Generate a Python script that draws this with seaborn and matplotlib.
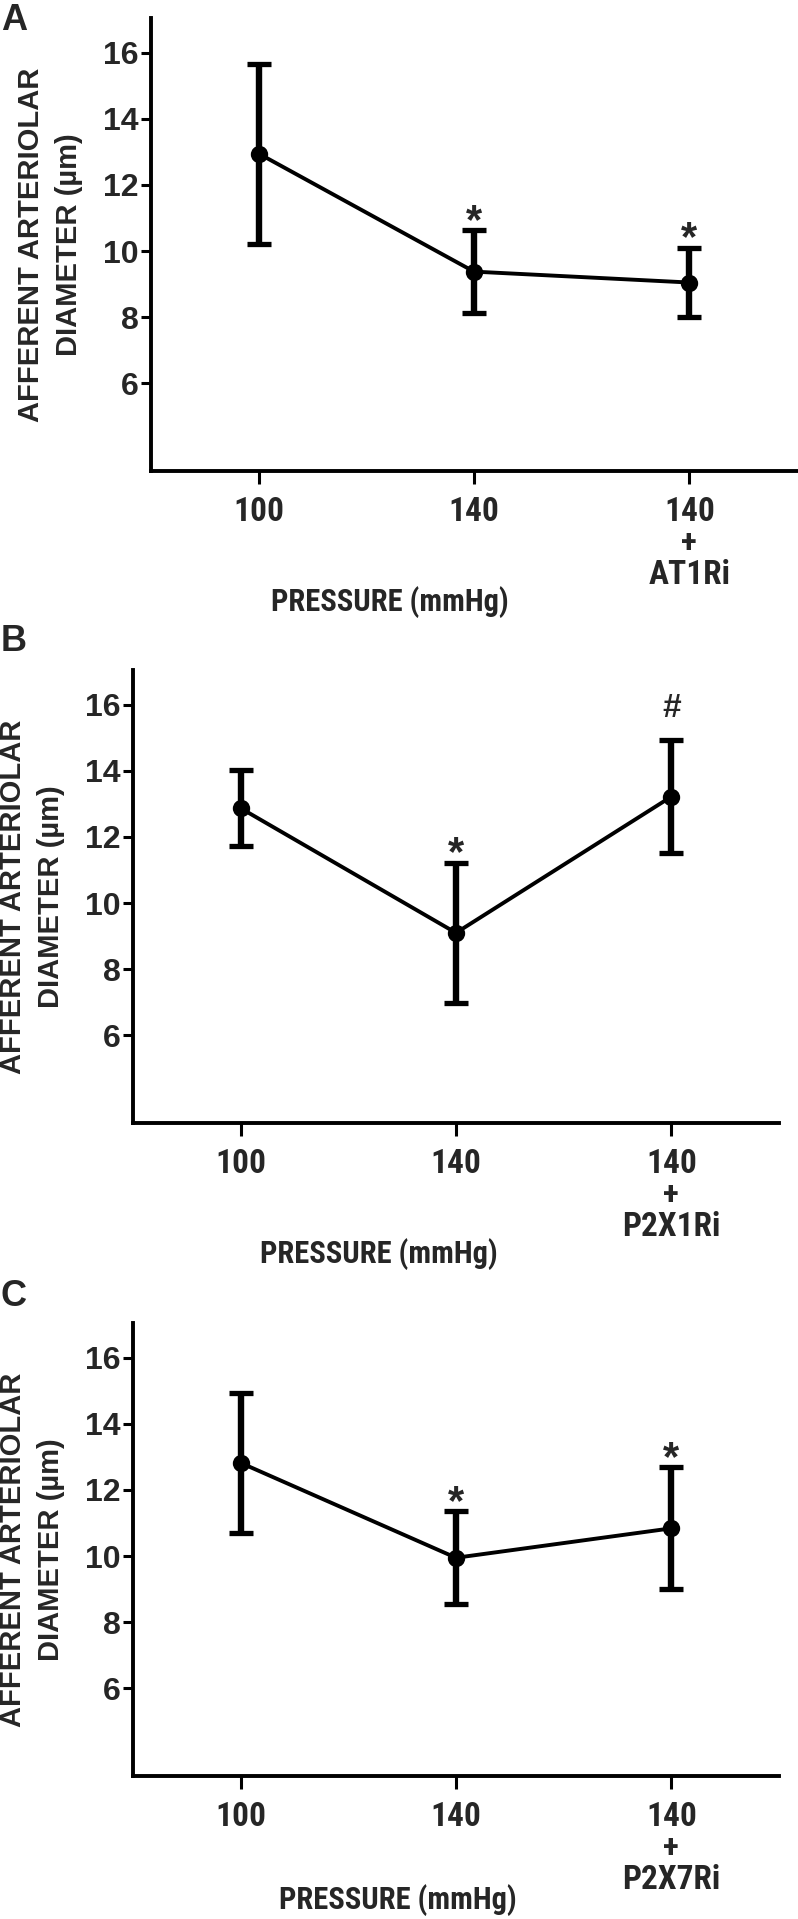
import os
import pandas as pd
import seaborn as sns
import matplotlib.pyplot as plt
from matplotlib import font_manager as fm

# x categories (same three conditions in every panel)
positions = [0, 1, 2]
labels_a = ['100', '140', '140\n+\nAT1Ri']
labels_b = ['100', '140', '140\n+\nP2X1Ri']
labels_c = ['100', '140', '140\n+\nP2X7Ri']

# mean +/- SEM
mean_a = [12.95, 9.38, 9.05]
sem_a = [2.72, 1.25, 1.05]
sig_a = ['', '*', '*']

mean_b = [12.87, 9.10, 13.22]
sem_b = [1.15, 2.12, 1.71]
sig_b = ['', '*', '#']

mean_c = [12.82, 9.95, 10.84]
sem_c = [2.12, 1.40, 1.84]
sig_c = ['', '*', '*']

yticks = [6, 8, 10, 12, 14, 16]


def narrow_bold(size):
    # the x-axis text in the original is a condensed bold face
    prefs = ['liberationsansnarrow-bold', 'arialnarrow', 'robotocondensed-bold',
             'notosans-condensedbold', 'dejavusanscondensed-bold', 'opensanscondensed-bold',
             'opensans_condensed-bold']
    files = [f.fname for f in fm.fontManager.ttflist]
    for p in prefs:
        for f in files:
            base = os.path.basename(f).lower()
            if base.startswith(p) and 'italic' not in base and 'oblique' not in base:
                return fm.FontProperties(fname=f, size=size)
    return fm.FontProperties(family='Liberation Sans', weight='bold',
                             stretch='condensed', size=size)


sns.set_theme(style="ticks")
plt.rcParams['font.family'] = ['Liberation Sans', 'DejaVu Sans']
plt.rcParams['font.weight'] = 'bold'

W, H = 798, 1919
fig = plt.figure(figsize=(W / 100, H / 100), dpi=100)

# layout in pixels: left, top, right, bottom of the axes, letter top, xlabel x/y
panels = [
    ('A', labels_a, mean_a, sem_a, sig_a, (151, 18, 797, 471), (14, 3), 0.37, -131),
    ('B', labels_b, mean_b, sem_b, sig_b, (133, 670, 779, 1123), (14, 624), 0.38, -131),
    ('C', labels_c, mean_c, sem_c, sig_c, (133, 1323, 779, 1776), (14, 1279), 0.41, -124),
]

# vertical nudge (data units) so the glyph sits just above the cap
sig_offset = {'*': 0.26, '#': 0.95}
sig_size = {'*': 30, '#': 24}

for letter, labels, means, sems, sig, box, lpos, xl, yl in panels:
    l, t, r, b = box
    ax = fig.add_axes([l / W, 1 - b / H, (r - l) / W, (b - t) / H])
    df = pd.DataFrame({'pos': positions, 'mean': means, 'sem': sems})

    ax.errorbar(df['pos'], df['mean'], yerr=df['sem'], fmt='none', ecolor='black',
                elinewidth=4.6, capsize=8.5, capthick=3.8, zorder=2)
    sns.lineplot(data=df, x='pos', y='mean', color='black', linewidth=2.8,
                 marker='o', markersize=12.5, markeredgewidth=0, ax=ax, zorder=3)

    for p, m, s, txt in zip(positions, means, sems, sig):
        if txt:
            ax.text(p, m + s + sig_offset[txt], txt, ha='center', va='center',
                    fontsize=sig_size[txt], fontweight='bold')

    ax.set_xlim(-0.5, 2.5)
    ax.set_ylim(3.35, 17.05)
    ax.set_yticks(yticks)
    ax.set_xticks(positions)
    ax.set_xticklabels(labels, fontproperties=narrow_bold(24), linespacing=0.97)
    for lbl in ax.get_yticklabels():
        lbl.set_fontweight('bold')

    ax.tick_params(axis='y', length=7, width=2.2, labelsize=23, pad=2, color='black')
    ax.tick_params(axis='x', length=9, width=2.2, pad=9, color='black')

    sns.despine(ax=ax)
    for sp in ['left', 'bottom']:
        ax.spines[sp].set_linewidth(2.8)
        ax.spines[sp].set_color('black')

    ax.set_ylabel('AFFERENT ARTERIOLAR\nDIAMETER (µm)', fontsize=21, fontweight='bold',
                  linespacing=1.45)
    ax.yaxis.set_label_coords(-101 / (r - l), 0.5)
    ax.yaxis.label.set_va('center')

    ax.set_xlabel('PRESSURE (mmHg)', fontproperties=narrow_bold(22))
    ax.xaxis.set_label_coords(xl, yl / (b - t))
    ax.xaxis.label.set_va('center')

    fig.text(lpos[0] / W, 1 - lpos[1] / H, letter, fontsize=26, fontweight='bold',
             ha='center', va='top')

fig.savefig('out.png', dpi=100, facecolor='white')
